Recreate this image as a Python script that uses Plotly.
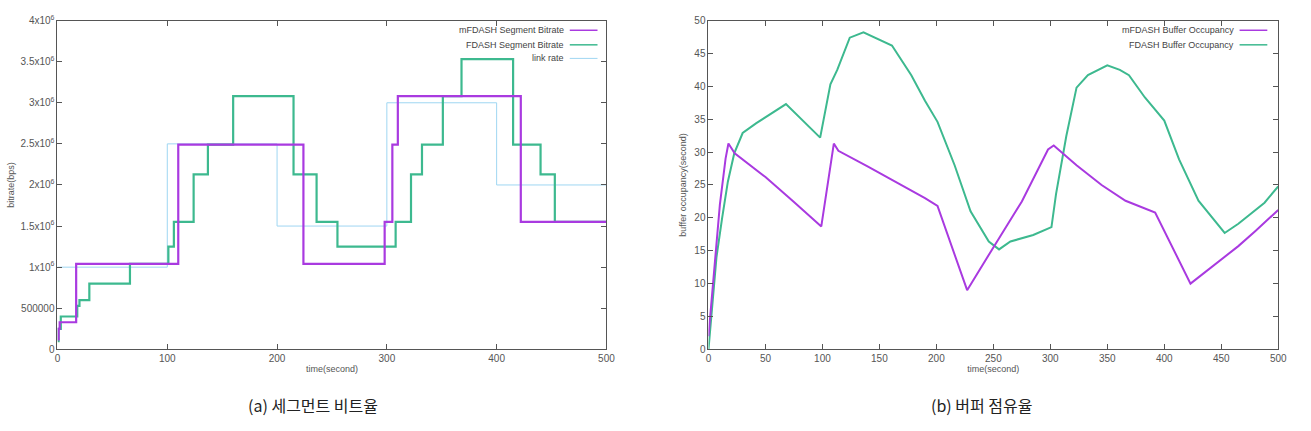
import plotly.graph_objects as go

# ---------------- (a) segment bitrate (step data: change points) ----------------
m_bit_t = [0, 1, 2, 17, 110, 224, 298, 305, 310, 422, 500]
m_bit_v = [120000, 250000, 330000, 1040000, 2490000, 1040000, 1550000, 2490000, 3080000, 1550000, 1550000]

f_bit_t = [0, 1, 3, 18, 20, 29, 66, 101, 106, 124, 137, 160, 215, 236, 255, 308, 322, 332, 351, 368, 415, 440, 453, 500]
f_bit_v = [100000, 250000, 400000, 530000, 600000, 800000, 1040000, 1250000, 1550000, 2130000, 2490000,
           3080000, 2130000, 1550000, 1250000, 1550000, 2130000, 2490000, 3080000, 3530000, 2490000,
           2130000, 1550000, 1550000]

link_t = [0, 100, 200, 300, 400, 500]
link_v = [1000000, 2500000, 1500000, 3000000, 2000000, 2000000]

bit_tickvals = [0, 500000, 1000000, 1500000, 2000000, 2500000, 3000000, 3500000, 4000000]
bit_ticktext = ["0", "500000", "1x10<sup>6</sup>", "1.5x10<sup>6</sup>", "2x10<sup>6</sup>",
                "2.5x10<sup>6</sup>", "3x10<sup>6</sup>", "3.5x10<sup>6</sup>", "4x10<sup>6</sup>"]

# ---------------- (b) buffer occupancy ----------------
m_buf_t = [0, 2, 5, 10, 15, 17.5, 23, 50, 75, 99, 110, 114, 140, 170, 190, 201, 215, 227, 250, 275,
           298, 303, 323, 345, 366, 383, 392, 423, 448, 465, 480, 500]
m_buf_v = [2, 6, 12, 22, 29, 31.3, 29.8, 26.2, 22.4, 18.7, 31.3, 30.2, 27.8, 24.9, 23.0, 21.8, 15.0, 9.0,
           15.5, 22.5, 30.4, 31.0, 28.0, 25.0, 22.6, 21.5, 20.8, 10.0, 13.4, 15.7, 18.0, 21.2]

f_buf_t = [0, 3, 7, 12, 17, 22.6, 30, 42, 55, 68, 98, 103, 107, 113, 124, 136, 149, 161, 178, 190, 201,
           216, 230, 246, 255, 265, 285, 301, 305, 314, 323, 333, 350, 361, 369, 383, 400, 413, 430,
           453, 465, 488, 500]
f_buf_v = [0, 6, 14, 20, 25.5, 29.8, 32.9, 34.4, 35.8, 37.3, 32.2, 36.5, 40.3, 42.5, 47.4, 48.2, 47.1,
           46.2, 41.7, 37.8, 34.6, 28.0, 21.0, 16.4, 15.2, 16.4, 17.4, 18.6, 23.6, 32.4, 39.8, 41.7, 43.2,
           42.5, 41.7, 38.3, 34.8, 28.9, 22.6, 17.7, 19.1, 22.3, 24.8]

buf_tickvals = list(range(0, 51, 5))
time_ticks_a = [0, 100, 200, 300, 400, 500]
time_ticks_b = list(range(0, 501, 50))

PURPLE = "#a93ae0"
GREEN = "#3db98f"
BLUE = "#9fd6f2"
AXC = "#555555"
TICKF = dict(family="Liberation Sans, Arial, sans-serif", size=10, color="#555555")

W, H = 1311, 431
fig = go.Figure()

fig.add_trace(go.Scatter(x=link_t, y=link_v, mode="lines", line=dict(color=BLUE, width=1, shape="hv"),
                         name="link rate", xaxis="x", yaxis="y", showlegend=False))
fig.add_trace(go.Scatter(x=f_bit_t, y=f_bit_v, mode="lines", line=dict(color=GREEN, width=2.2, shape="hv"),
                         name="FDASH Segment Bitrate", xaxis="x", yaxis="y", showlegend=False))
fig.add_trace(go.Scatter(x=m_bit_t, y=m_bit_v, mode="lines", line=dict(color=PURPLE, width=2.2, shape="hv"),
                         name="mFDASH Segment Bitrate", xaxis="x", yaxis="y", showlegend=False))

fig.add_trace(go.Scatter(x=f_buf_t, y=f_buf_v, mode="lines", line=dict(color=GREEN, width=2),
                         name="FDASH Buffer Occupancy", xaxis="x2", yaxis="y2", showlegend=False))
fig.add_trace(go.Scatter(x=m_buf_t, y=m_buf_v, mode="lines", line=dict(color=PURPLE, width=2),
                         name="mFDASH Buffer Occupancy", xaxis="x2", yaxis="y2", showlegend=False))

def dom_x(a, b):
    return [a / W, b / W]

def dom_y(top, bottom):
    return [(H - bottom) / H, (H - top) / H]

axis_common = dict(showline=True, linecolor=AXC, linewidth=1, mirror="ticks", ticks="inside",
                   ticklen=5, tickcolor=AXC, showgrid=False, zeroline=False, tickfont=TICKF)

fig.update_layout(
    width=W, height=H, margin=dict(l=0, r=0, t=0, b=0),
    paper_bgcolor="white", plot_bgcolor="white", showlegend=False,
    xaxis=dict(domain=dom_x(55, 609), range=[0, 500], tickvals=time_ticks_a, anchor="y",
               title=dict(text="time(second)", font=dict(family="Liberation Sans, Arial", size=9, color="#555"),
                          standoff=2), **axis_common),
    yaxis=dict(domain=dom_y(14, 353), range=[0, 4000000], tickvals=bit_tickvals, ticktext=bit_ticktext,
               anchor="x",
               title=dict(text="bitrate(bps)", font=dict(family="Liberation Sans, Arial", size=9, color="#555"),
                          standoff=4), **axis_common),
    xaxis2=dict(domain=dom_x(712, 1287), range=[0, 500], tickvals=time_ticks_b, anchor="y2",
                title=dict(text="time(second)", font=dict(family="Liberation Sans, Arial", size=9, color="#555"),
                           standoff=2), **axis_common),
    yaxis2=dict(domain=dom_y(14, 353), range=[0, 50], tickvals=buf_tickvals, anchor="x2",
                title=dict(text="buffer occupancy(second)",
                           font=dict(family="Liberation Sans, Arial", size=9, color="#555"), standoff=6),
                **axis_common),
)

# gnuplot-style key: text right-aligned, sample line on its right
legend_a = [("mFDASH Segment Bitrate", PURPLE, 24), ("FDASH Segment Bitrate", GREEN, 39), ("link rate", BLUE, 53)]
legend_b = [("mFDASH Buffer Occupancy", PURPLE, 24), ("FDASH Buffer Occupancy", GREEN, 39)]
for items, txt_x, l0, l1 in [(legend_a, 568, 572, 600), (legend_b, 1244, 1248, 1276)]:
    for name, col, yy in items:
        fig.add_annotation(x=txt_x / W, y=(H - yy) / H, xref="paper", yref="paper", text=name,
                           showarrow=False, xanchor="right", yanchor="middle",
                           font=dict(family="Liberation Sans, Arial", size=9, color="#444"))
        fig.add_shape(type="line", xref="paper", yref="paper", x0=l0 / W, x1=l1 / W,
                      y0=(H - yy) / H, y1=(H - yy) / H,
                      line=dict(color=col, width=1.5 if col != BLUE else 1))

for text, cx in [("(a) 세그먼트 비트율", 313), ("(b) 버퍼 점유율", 988)]:
    fig.add_annotation(x=cx / W, y=(H - 410) / H, xref="paper", yref="paper", text=text, showarrow=False,
                       xanchor="center", yanchor="middle",
                       font=dict(family="Noto Sans CJK KR, Liberation Sans", size=16, color="#222"))

fig.write_html("out.html")
